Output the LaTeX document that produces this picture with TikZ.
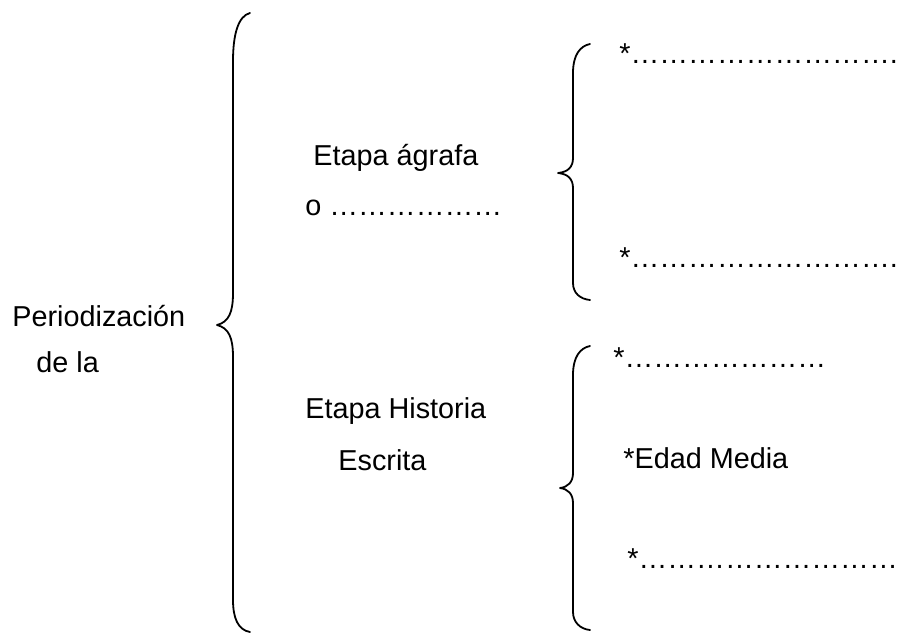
\documentclass[tikz,border=0pt]{standalone}
\usepackage{fontspec}
\setmainfont{Liberation Sans}

\newcommand\puntos[1]{\foreach \k in {1,...,#1}{…}}

\tikzset{
  texto/.style={anchor=base west, inner sep=0pt, font=\fontsize{14.4}{17}\selectfont},
  llave/.style={line width=0.9pt, line cap=round, line join=round}
}

\begin{document}
\begin{tikzpicture}[x=0.5pt, y=-0.5pt]
\useasboundingbox (0,0) rectangle (909,632);

            % texto de la izquierda
            \node[texto] (periodo) at (12,326) {Periodización};
            \node[texto] (dela) at (36,372) {de la};

            % etapas
            \node[texto] (agrafa) at (313,165) {Etapa ágrafa};
            \node[texto] (agrafa2) at (305,215) {o \puntos{6}};
            \node[texto] (historia) at (305,418) {Etapa Historia};
            \node[texto] (escrita) at (338,470) {Escrita};

            % subdivisiones
            \node[texto] (a1) at (619,63) {*\puntos{9}.};
            \node[texto] (a2) at (619,267) {*\puntos{9}.};
            \node[texto] (b1) at (613,367) {*\puntos{7}};
            \node[texto] (b2) at (623,468) {*Edad Media};
            \node[texto] (b3) at (627,568) {*\puntos{9}};

            % llave grande
            \draw[llave] (250,13) .. controls (238,16) and (233,35) .. (233,61) -- (233,293)
              .. controls (233,312) and (229,322) .. (217,325)
              .. controls (229,328) and (233,338) .. (233,357) -- (233,600)
              .. controls (233,618) and (238,630) .. (250,632);

            % llave de arriba
            \draw[llave] (590,44) .. controls (580,46) and (573,55) .. (573,73) -- (573,158)
              .. controls (573,167) and (568,172) .. (558,173)
              .. controls (568,174) and (573,179) .. (573,188) -- (573,283)
              .. controls (573,293) and (580,299) .. (590,300);

            % llave de abajo
            \draw[llave] (590,346) .. controls (580,348) and (573,357) .. (573,375) -- (573,473)
              .. controls (573,482) and (568,487) .. (560,488)
              .. controls (568,489) and (573,494) .. (573,503) -- (573,612)
              .. controls (573,622) and (580,629) .. (590,630);

            ;
        \end{tikzpicture}
\end{document}
